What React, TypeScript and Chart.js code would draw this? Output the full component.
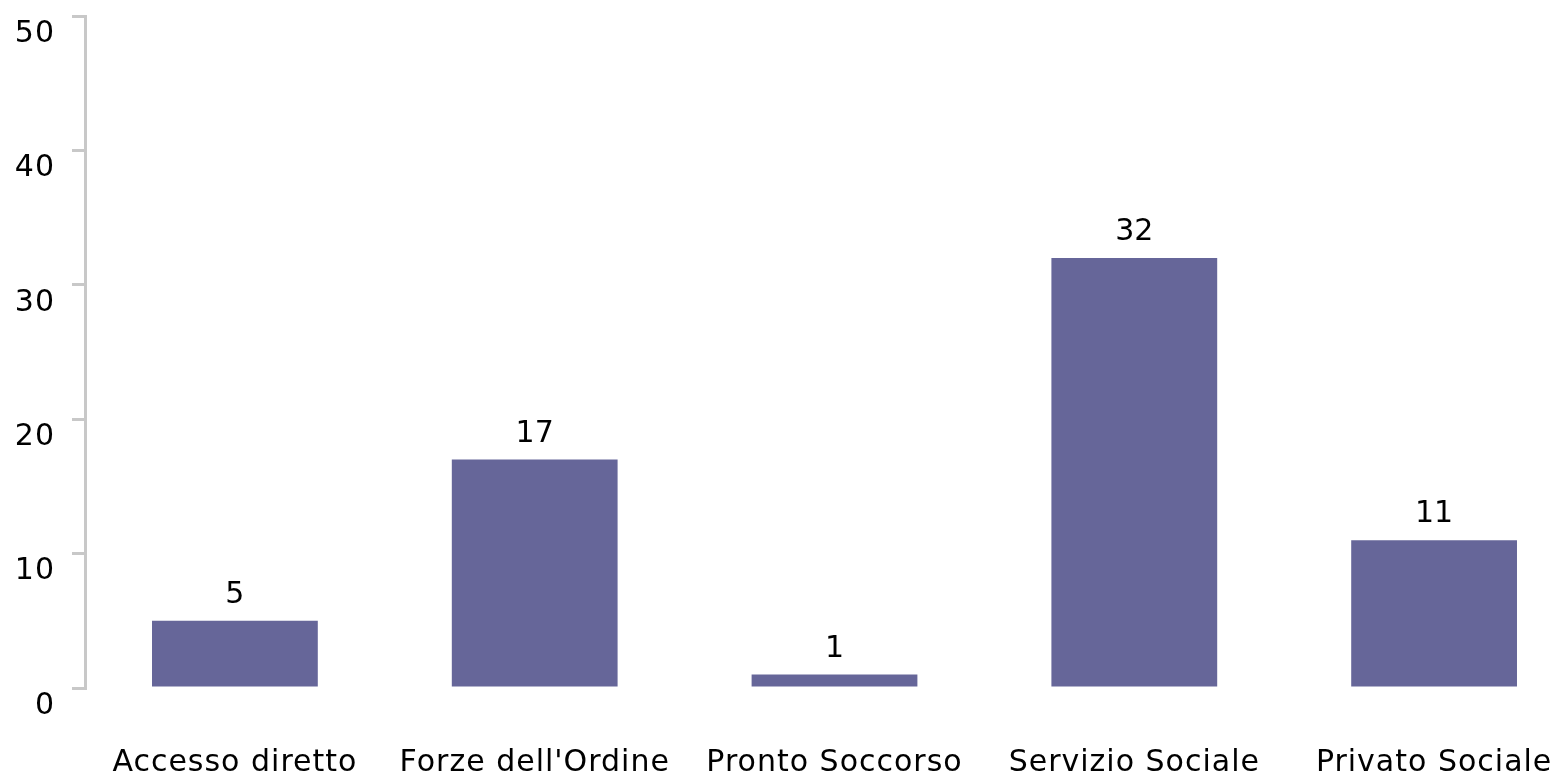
import React, { useEffect, useRef } from "react";
import { Chart, registerables } from "chart.js";

Chart.register(...registerables);

const categories = ["Accesso diretto", "Forze dell'Ordine", "Pronto Soccorso", "Servizio Sociale", "Privato Sociale"];
const values = [5, 17, 1, 32, 11];
const yMin = 0;
const yMax = 50;
const yStep = 10;

const FONT = "'DejaVu Sans', Verdana, sans-serif";

const spacing = {
  id: "spacing",
  beforeDraw(chart: any) {
    chart.ctx.letterSpacing = "1px";
  },
  afterDraw(chart: any) {
    chart.ctx.letterSpacing = "0px";
  },
};

const valueLabels = {
  id: "valueLabels",
  afterDatasetsDraw(chart: any) {
    const ctx = chart.ctx;
    const meta = chart.getDatasetMeta(0);
    ctx.save();
    ctx.letterSpacing = "0px";
    ctx.font = `30px ${FONT}`;
    ctx.fillStyle = "#000";
    ctx.textAlign = "center";
    ctx.textBaseline = "alphabetic";
    meta.data.forEach((bar: any, i: number) => {
      ctx.fillText(String(values[i]), bar.x, bar.y - 18);
    });
    ctx.restore();
  },
};

export default function App() {
  const ref = useRef<HTMLCanvasElement | null>(null);
  useEffect(() => {
    if (!ref.current) return;
    const chart = new Chart(ref.current, {
      type: "bar",
      data: {
        labels: categories,
        datasets: [
          {
            data: values,
            backgroundColor: "#666699",
            borderWidth: 0,
            barPercentage: 0.553,
            categoryPercentage: 1,
          },
        ],
      },
      options: {
        responsive: false,
        animation: false,
        devicePixelRatio: 1,
        layout: { padding: { left: 0, right: 16, top: 16, bottom: 0 } },
        plugins: {
          legend: { display: false },
          tooltip: { enabled: false },
        },
        scales: {
          x: {
            grid: { display: false, drawTicks: false },
            border: { display: false },
            ticks: {
              color: "#000",
              font: { family: FONT, size: 30 },
              padding: 57,
              maxRotation: 0,
              autoSkip: false,
            },
            afterFit: (s: any) => {
              s.height = 88;
              s.paddingLeft = 0;
              s.paddingRight = 0;
            },
          },
          y: {
            min: yMin,
            max: yMax,
            ticks: {
              stepSize: yStep,
              color: "#000",
              font: { family: FONT, size: 30 },
              padding: 17,
              labelOffset: 18,
            },
            grid: {
              drawOnChartArea: false,
              drawTicks: true,
              tickLength: 13,
              color: "#c8c8c8",
              lineWidth: 3,
            },
            border: { display: true, color: "#c8c8c8", width: 3 },
            afterFit: (s: any) => {
              s.width = 85;
              s.paddingTop = 0;
              s.paddingBottom = 0;
            },
          },
        },
      },
      plugins: [spacing, valueLabels],
    });
    return () => chart.destroy();
  }, []);
  return (
    <div style={{ position: "fixed", left: 0, top: 0, width: 1554, height: 776, overflow: "hidden", background: "#fff" }}>
      <canvas ref={ref} width={1600} height={776} style={{ display: "block" }} />
    </div>
  );
}
